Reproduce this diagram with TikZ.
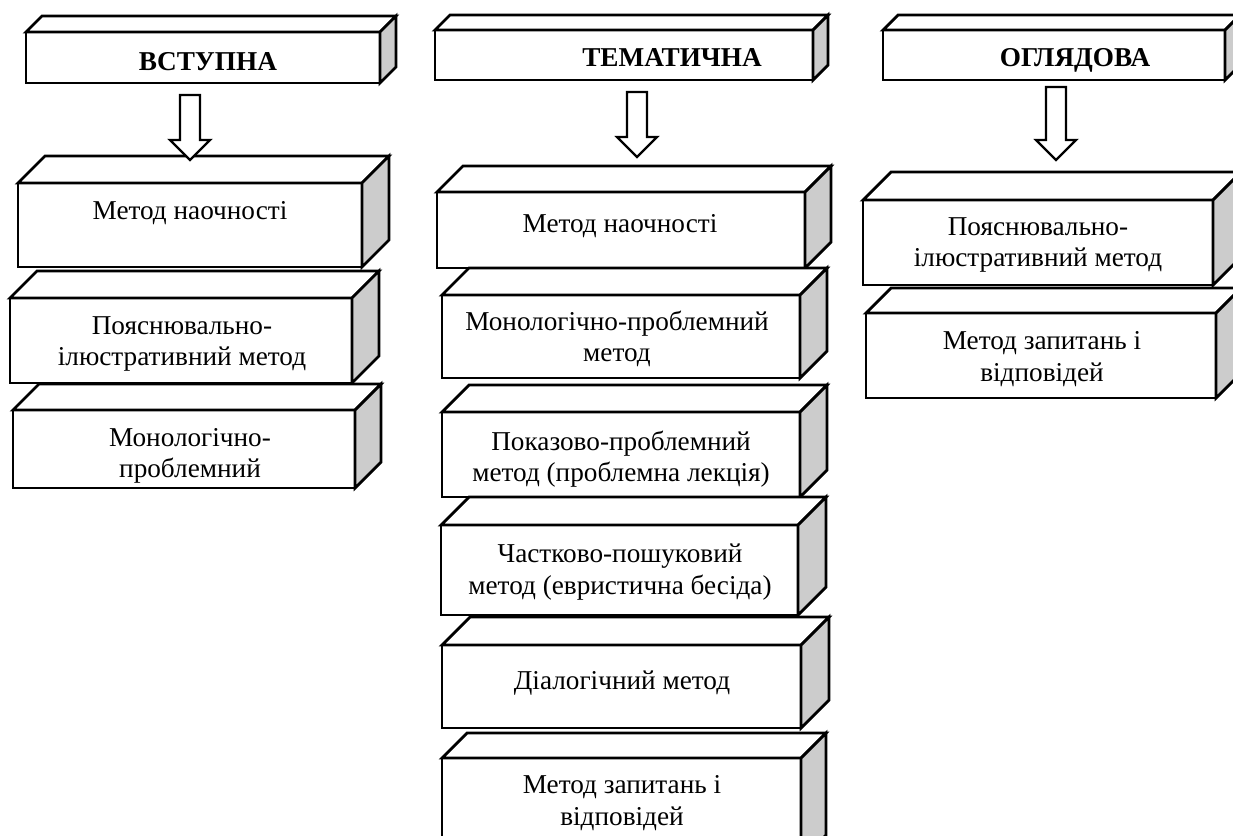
\documentclass[tikz,border=0pt]{standalone}
\usepackage{fontspec}
\setmainfont{Liberation Serif}
\usetikzlibrary{calc}
\definecolor{sidegray}{gray}{0.8}

% front face as a node, top and side faces from its anchors
\newcommand{\cuboid}[6]{%
  \node[face, minimum width={(#4-#2)*0.02cm}, minimum height={(#5-#3)*0.02cm}]
    (#1) at ({(#2+#4)/2},{(#3+#5)/2}) {};
  \draw[edge, fill=white] (#1.north west) -- ++(#6,-#6)
    -- ($(#1.north east)+(#6,-#6)$) -- (#1.north east) -- cycle;
  \draw[edge, fill=sidegray] (#1.north east) -- ++(#6,-#6)
    -- ($(#1.south east)+(#6,-#6)$) -- (#1.south east) -- cycle;}

% hollow block arrow from (#1) down to its tip (#2)
\newcommand{\hollowarrow}[2]{%
  \draw[edge, line width=1.3pt, fill=white] ($(#1)+(-10,0)$) -- ($(#2)+(-10,-20)$)
    -- ($(#2)+(-20,-20)$) -- (#2) -- ($(#2)+(20,-20)$)
    -- ($(#2)+(10,-20)$) -- ($(#1)+(10,0)$) -- cycle;}

\begin{document}
\begin{tikzpicture}[x=0.02cm, y=-0.02cm,
    edge/.style={draw, line width=1.6pt, line join=miter},
    face/.style={edge, fill=white, rectangle, inner sep=0pt, outer sep=0pt},
    txt/.style={align=center, inner sep=0pt, font=\fontsize{15.5}{18}\selectfont},
    head/.style={txt, font=\fontsize{15.5}{18}\selectfont\bfseries}]
    \useasboundingbox (0,0) rectangle (1233,835);
    \clip (0,0) rectangle (1233,835);

    % column 1
    \cuboid{vstup}{26}{32}{380}{83}{16}
    \node[head] (vstup-t) at (208,62) {ВСТУПНА};
    \cuboid{vstup1}{18}{183}{362}{267}{27}
    \node[txt] (vstup1-t) at (190,213) {Метод наочності};
    \cuboid{vstup2}{10}{298}{352}{383}{27}
    \node[txt] (vstup2-t) at (182,344) {Пояснювально-\\ілюстративний метод};
    \cuboid{vstup3}{13}{410}{355}{488}{26}
    \node[txt] (vstup3-t) at (190,456) {Монологічно-\\проблемний};
    \coordinate (a1) at (190,95);
    \coordinate (a1e) at (190,160);
    \hollowarrow{a1}{a1e}

    % column 2
    \cuboid{tema}{435}{30}{813}{80}{15}
    \node[head] (tema-t) at (672,58) {ТЕМАТИЧНА};
    \cuboid{tema1}{437}{192}{805}{268}{26}
    \node[txt] (tema1-t) at (620,226) {Метод наочності};
    \cuboid{tema2}{442}{295}{800}{378}{27}
    \node[txt] (tema2-t) at (617,339) {Монологічно-проблемний\\метод};
    \cuboid{tema3}{442}{412}{800}{497}{27}
    \node[txt] (tema3-t) at (621,459) {Показово-проблемний\\метод (проблемна лекція)};
    \cuboid{tema4}{441}{525}{798}{615}{28}
    \node[txt] (tema4-t) at (620,572) {Частково-пошуковий\\метод (евристична бесіда)};
    \cuboid{tema5}{442}{645}{801}{728}{28}
    \node[txt] (tema5-t) at (622,683) {Діалогічний метод};
    \cuboid{tema6}{442}{758}{801}{860}{25}
    \node[txt] (tema6-t) at (622,803) {Метод запитань і\\відповідей};
    \coordinate (a2) at (637,92);
    \coordinate (a2e) at (637,157);
    \hollowarrow{a2}{a2e}

    % column 3
    \cuboid{ohl}{883}{30}{1225}{80}{15}
    \node[head] (ohl-t) at (1075,60) {ОГЛЯДОВА};
    \cuboid{ohl1}{863}{200}{1213}{285}{28}
    \node[txt] (ohl1-t) at (1038,245) {Пояснювально-\\ілюстративний метод};
    \cuboid{ohl2}{866}{313}{1216}{398}{25}
    \node[txt] (ohl2-t) at (1042,359) {Метод запитань і\\відповідей};
    \coordinate (a3) at (1056,87);
    \coordinate (a3e) at (1056,160);
    \hollowarrow{a3}{a3e}

\end{tikzpicture}
\end{document}
